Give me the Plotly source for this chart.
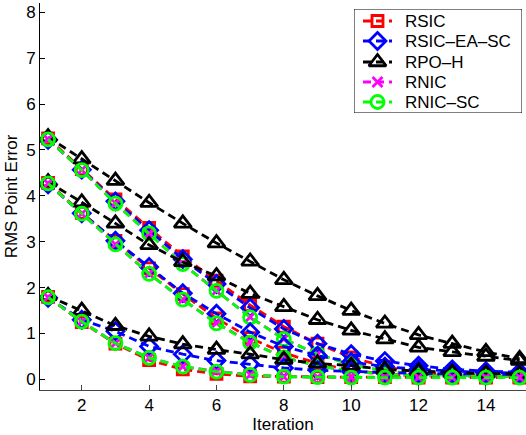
import plotly.graph_objects as go

iterations = list(range(1, 16))

# Three starting error levels (high / mid / low), five methods each
rsic_high = [5.25, 4.58, 3.92, 3.30, 2.68, 2.15, 1.62, 1.15, 0.78, 0.48, 0.28, 0.15, 0.10, 0.08, 0.07]
rsic_mid = [4.28, 3.63, 3.02, 2.42, 1.86, 1.33, 0.90, 0.58, 0.35, 0.20, 0.12, 0.08, 0.06, 0.05, 0.05]
rsic_low = [1.80, 1.25, 0.78, 0.42, 0.22, 0.12, 0.07, 0.06, 0.05, 0.05, 0.05, 0.04, 0.04, 0.04, 0.04]

rsic_ea_sc_high = [5.22, 4.57, 3.88, 3.25, 2.62, 2.08, 1.56, 1.10, 0.78, 0.55, 0.40, 0.30, 0.22, 0.18, 0.16]
rsic_ea_sc_mid = [4.25, 3.62, 3.02, 2.45, 1.88, 1.43, 1.03, 0.72, 0.52, 0.38, 0.28, 0.22, 0.18, 0.15, 0.14]
rsic_ea_sc_low = [1.78, 1.30, 1.05, 0.72, 0.55, 0.41, 0.33, 0.25, 0.20, 0.17, 0.15, 0.13, 0.12, 0.12, 0.11]

rpo_h_high = [5.28, 4.80, 4.33, 3.85, 3.40, 2.97, 2.57, 2.17, 1.82, 1.50, 1.22, 0.97, 0.78, 0.60, 0.45]
rpo_h_mid = [4.30, 3.86, 3.40, 2.93, 2.56, 2.25, 1.87, 1.58, 1.30, 1.07, 0.88, 0.70, 0.60, 0.50, 0.41]
rpo_h_low = [1.82, 1.50, 1.17, 0.94, 0.77, 0.65, 0.55, 0.43, 0.35, 0.30, 0.22, 0.18, 0.15, 0.13, 0.12]

rnic_high = [5.23, 4.56, 3.84, 3.18, 2.52, 1.93, 1.36, 0.88, 0.55, 0.33, 0.18, 0.12, 0.09, 0.07, 0.07]
rnic_mid = [4.27, 3.61, 2.94, 2.30, 1.74, 1.23, 0.81, 0.48, 0.30, 0.18, 0.11, 0.08, 0.07, 0.06, 0.06]
rnic_low = [1.79, 1.26, 0.79, 0.47, 0.28, 0.18, 0.10, 0.06, 0.05, 0.04, 0.04, 0.04, 0.04, 0.04, 0.04]

rnic_sc_high = [5.23, 4.56, 3.83, 3.18, 2.51, 1.93, 1.35, 0.88, 0.55, 0.32, 0.18, 0.12, 0.09, 0.07, 0.07]
rnic_sc_mid = [4.27, 3.61, 2.94, 2.30, 1.74, 1.22, 0.80, 0.48, 0.30, 0.18, 0.11, 0.08, 0.07, 0.06, 0.06]
rnic_sc_low = [1.79, 1.26, 0.79, 0.47, 0.28, 0.17, 0.10, 0.06, 0.05, 0.04, 0.04, 0.04, 0.04, 0.04, 0.04]

x_ticks = [2, 4, 6, 8, 10, 12, 14]
y_ticks = [0, 1, 2, 3, 4, 5, 6, 7, 8]

methods = [
    ("RSIC", "#ff0000", "square-open", 11, [rsic_high, rsic_mid, rsic_low]),
    ("RSIC–EA–SC", "#0000ff", "diamond-open", 13, [rsic_ea_sc_high, rsic_ea_sc_mid, rsic_ea_sc_low]),
    ("RPO–H", "#000000", "triangle-up-open", 15, [rpo_h_high, rpo_h_mid, rpo_h_low]),
    ("RNIC", "#ff00ff", "x-thin-open", 10, [rnic_high, rnic_mid, rnic_low]),
    ("RNIC–SC", "#00ff00", "circle-open", 13, [rnic_sc_high, rnic_sc_mid, rnic_sc_low]),
]

LINE_W = 2.8
DASH = "8px,5px"

fig = go.Figure()
for g in range(3):
    for name, color, symbol, size, series in methods:
        fig.add_trace(go.Scatter(
            x=iterations, y=series[g], name=name, showlegend=False,
            mode="lines+markers",
            line=dict(color=color, width=LINE_W, dash=DASH),
            marker=dict(symbol=symbol, size=size, color=color,
                        line=dict(color=color, width=2.8)),
        ))

# Legend box drawn on its own small axis pair (units: pixels inside the box)
BOX_W, BOX_H = 168, 104
row_y = [12, 32, 53, 73, 93]
for (name, color, symbol, size, _), ry in zip(methods, row_y):
    fig.add_trace(go.Scatter(
        x=[9, 38], y=[ry, ry], mode="lines", xaxis="x2", yaxis="y2",
        line=dict(color=color, width=LINE_W, dash=DASH),
        showlegend=False, hoverinfo="skip",
    ))
    fig.add_trace(go.Scatter(
        x=[23.5], y=[ry], mode="markers", xaxis="x2", yaxis="y2",
        marker=dict(symbol=symbol, size=size, color=color,
                    line=dict(color=color, width=2.8)),
        showlegend=False, hoverinfo="skip",
    ))
    fig.add_annotation(
        x=49, y=ry, xref="x2", yref="y2", text=name, showarrow=False,
        xanchor="left", yanchor="middle", font=dict(size=17),
    )

fig.add_shape(
    type="rect", xref="x2", yref="y2", x0=0, x1=BOX_W, y0=0, y1=BOX_H,
    line=dict(color="#000000", width=1), fillcolor="white", layer="below",
)

font = "Liberation Sans, Arial, Helvetica, sans-serif"
fig.update_layout(
    width=526, height=435,
    margin=dict(l=40, r=0, t=3, b=45),
    paper_bgcolor="white", plot_bgcolor="white",
    font=dict(family=font, size=17, color="#000000"),
    showlegend=False,
    xaxis=dict(
        range=[0.76, 15.19], tickmode="array", tickvals=x_ticks,
        ticks="inside", ticklen=5, tickcolor="#444444",
        showline=True, linecolor="#444444", linewidth=1,
        showgrid=False, zeroline=False,
        title=dict(text="Iteration", standoff=2, font=dict(size=17)),
    ),
    yaxis=dict(
        range=[-0.23, 8.2], tickmode="array", tickvals=y_ticks,
        ticks="inside", ticklen=5, tickcolor="#000000",
        showline=True, linecolor="#000000", linewidth=1,
        showgrid=False, zeroline=False,
        title=dict(text="RMS Point Error", standoff=4, font=dict(size=17)),
    ),
    xaxis2=dict(
        domain=[(354 - 40) / 486, (522 - 40) / 486], range=[0, BOX_W],
        anchor="y2", visible=False, fixedrange=True,
    ),
    yaxis2=dict(
        domain=[(390 - 113) / 387, (390 - 9) / 387], range=[BOX_H, 0],
        anchor="x2", visible=False, fixedrange=True,
    ),
)

fig.write_html("out.html")
